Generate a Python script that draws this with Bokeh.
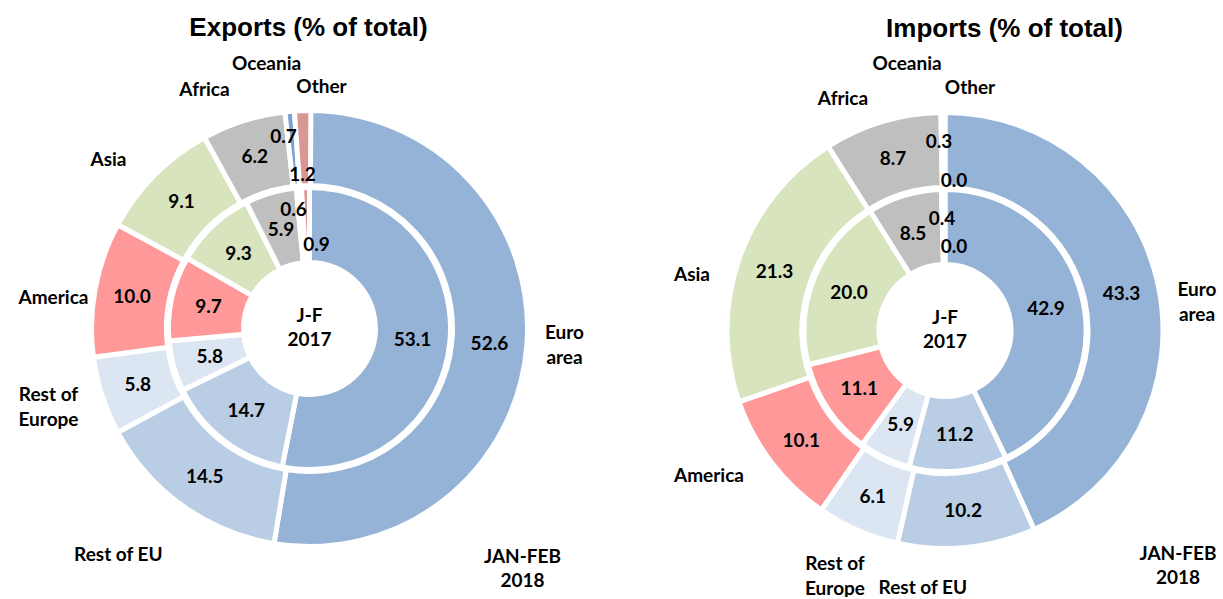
import math
from bokeh.plotting import figure
from bokeh.models import Range1d, ColumnDataSource
from bokeh.core.properties import value
from bokeh.embed import file_html
from bokeh.resources import INLINE

# ---------------- data ----------------
CATEGORIES = ["Euro area", "Rest of EU", "Rest of Europe", "America",
              "Asia", "Africa", "Oceania", "Other"]
CATEGORY_LABELS = ["Euro\narea", "Rest of EU", "Rest of\nEurope", "America",
                   "Asia", "Africa", "Oceania", "Other"]
EXPORTS_2018 = [52.6, 14.5, 5.8, 10.0, 9.1, 6.2, 0.7, 1.2]
EXPORTS_2017 = [53.1, 14.7, 5.8, 9.7, 9.3, 5.9, 0.6, 0.9]
IMPORTS_2018 = [43.3, 10.2, 6.1, 10.1, 21.3, 8.7, 0.3, 0.0]
IMPORTS_2017 = [42.9, 11.2, 5.9, 11.1, 20.0, 8.5, 0.4, 0.0]
TITLES = ["Exports (% of total)", "Imports (% of total)"]
OUTER_RING_LABEL = "JAN-FEB\n2018"
INNER_RING_LABEL = "J-F\n2017"

COLORS = ["#95B3D7", "#B9CDE5", "#DCE6F2", "#FF9999",
          "#D7E4BD", "#BFBFBF", "#7E9FD3", "#D99694"]

# ---------------- layout ----------------
W, H = 1221, 597
OFF = 0
FONT = "Lato"


def sx(x):
    return x - OFF


def sy(y):
    return (OFF + H) - y


p = figure(width=W, height=H, output_backend="svg", toolbar_location=None,
           x_range=Range1d(0, W), y_range=Range1d(0, H), min_border=0)
p.axis.visible = False
p.grid.visible = False
p.outline_line_color = None
p.background_fill_color = "white"

R_HOLE, R_IN_OUT, R_OUT_IN, R_OUT_OUT = 66, 141, 143, 218

charts = [
    dict(title=TITLES[0], title_pos=(308, 26), center=(309, 328),
         outer=EXPORTS_2018, inner=EXPORTS_2017,
         cat_pos=[(255, 15), (-191, 225), (-261, 77), (-256, -32),
                  (-201, -170), (-105, -240), (-43, -266), (12, -243)],
         ring_pos=(213, 239),
         overrides={("o", 6): (-26, -193), ("o", 7): (-7, -155),
                    ("i", 6): (-16, -120), ("i", 7): (7, -85)}),
    dict(title=TITLES[1], title_pos=(1004, 27), center=(944.5, 330),
         outer=IMPORTS_2018, inner=IMPORTS_2017,
         cat_pos=[(252, -30), (-22, 256), (-110, 244), (-236, 144),
                  (-253, -57), (-102, -233), (-38, -268), (25, -244)],
         ring_pos=(233, 234),
         overrides={("o", 6): (-6, -190), ("o", 7): (9, -151),
                    ("i", 6): (-3, -113), ("i", 7): (9, -85),
                    ("i", 5): (-32, -98)}),
]


def add_text(x, y, txt, size="19px", font=FONT, spacing=25):
    lines = txt.split("\n")
    n = len(lines)
    xs, ys = [], []
    for k, line in enumerate(lines):
        xs.append(x)
        ys.append(y - (k - (n - 1) / 2) * spacing)
    p.text(x=xs, y=ys, text=lines, text_font=value(font), text_font_style="bold",
           text_font_size=size, text_align="center", text_baseline="middle",
           text_color="#000000")


for ch in charts:
    cx, cy = sx(ch["center"][0]), sy(ch["center"][1])
    for ring, vals, r0, r1 in (("o", ch["outer"], R_OUT_IN, R_OUT_OUT),
                               ("i", ch["inner"], R_HOLE, R_IN_OUT)):
        total = 0.0
        starts, ends, cols = [], [], []
        lx, ly, lt = [], [], []
        for k, v in enumerate(vals):
            a0 = 90 - total * 3.6
            total += v
            a1 = 90 - total * 3.6
            if v > 0:
                starts.append(math.radians(a0))
                ends.append(math.radians(a1))
                cols.append(COLORS[k])
            mid = math.radians((a0 + a1) / 2)
            rm = (r0 + r1) / 2
            if (ring, k) in ch["overrides"]:
                dx, dy = ch["overrides"][(ring, k)]
                px, py = cx + dx, cy - dy
            else:
                px, py = cx + rm * math.cos(mid), cy + rm * math.sin(mid)
            lx.append(px)
            ly.append(py)
            lt.append(f"{v:.1f}")
        src = ColumnDataSource(dict(start=starts, end=ends, color=cols))
        p.annular_wedge(x=cx, y=cy, inner_radius=r0, outer_radius=r1,
                        start_angle="start", end_angle="end",
                        direction="clock", fill_color="color",
                        line_color="white", line_width=5, source=src)
        for px, py, t in zip(lx, ly, lt):
            add_text(px, py, t)
    # category labels
    for (dx, dy), lab in zip(ch["cat_pos"], CATEGORY_LABELS):
        add_text(cx + dx, cy - dy, lab)
    # ring labels
    add_text(cx + ch["ring_pos"][0], cy - ch["ring_pos"][1], OUTER_RING_LABEL)
    add_text(cx, cy + 2, INNER_RING_LABEL)
    # title
    add_text(sx(ch["title_pos"][0]), sy(ch["title_pos"][1]), ch["title"],
             size="26px", font="Liberation Sans")

open("out.html", "w").write(file_html(p, INLINE))
